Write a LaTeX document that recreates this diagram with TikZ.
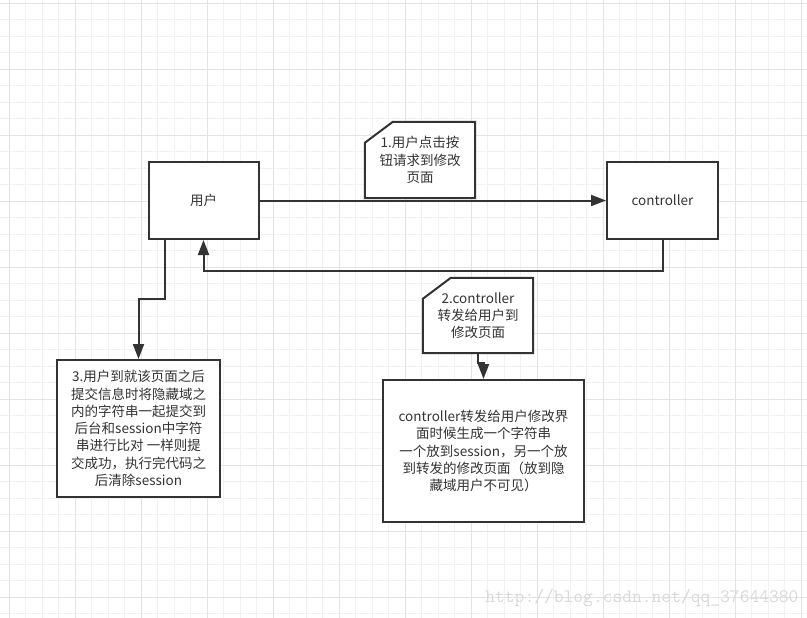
\documentclass[tikz,border=0pt]{standalone}
\usepackage{fontspec}
\setmainfont{Noto Sans CJK SC}
\usetikzlibrary{arrows.meta}

\definecolor{ink}{HTML}{333333}
\definecolor{gridmaj}{HTML}{E3E3E3}
\definecolor{gridmin}{HTML}{F2F2F2}
\definecolor{wmark}{HTML}{D9D9D9}

\pgfdeclarelayer{grid}
\pgfdeclarelayer{cards}
\pgfsetlayers{grid,cards,main}

\begin{document}
\begin{tikzpicture}[x=1pt,y=-1pt,>={Triangle[length=15pt,width=11pt]},
  font=\fontsize{13.5}{17.3}\selectfont,
  b/.style={draw=ink,line width=2pt,fill=white,text=ink,align=center,inner sep=0pt},
  n/.style={text=ink,align=center,inner sep=0pt},
  card/.style={draw=ink,line width=2pt,fill=white},
  c/.style={draw=ink,line width=2pt,->}]
\useasboundingbox (0,0) rectangle (807,618);
% grid
\begin{pgfonlayer}{grid}
\fill[white] (0,0) rectangle (807,618);
\foreach \i in {0,...,48} \draw[gridmin,line width=1pt] ({9.3+16.5*\i},0) -- ++(0,618);
\foreach \j in {0,...,37} \draw[gridmin,line width=1pt] (0,{3.3+16.5*\j}) -- ++(807,0);
\foreach \i in {0,...,12} \draw[gridmaj,line width=1pt] ({9.3+66*\i},0) -- ++(0,618);
\foreach \j in {0,...,9} \draw[gridmaj,line width=1pt] (0,{3.3+66*\j}) -- ++(807,0);
\end{pgfonlayer}

\node[b,minimum width=110pt,minimum height=77pt] (user) at (203.5,200.5) {用户};
\node[b,minimum width=111pt,minimum height=77pt] (ctrl) at (662.5,200.5) {controller};
\node[n,minimum width=110pt,minimum height=76pt] (req) at (420,160) {1.用户点击按\\钮请求到修改\\页面};
\node[n,minimum width=110pt,minimum height=75pt] (fwd) at (478,315.5) {2.controller\\转发给用户到\\修改页面};
\node[b,minimum width=201pt,minimum height=142pt] (token) at (483.5,451)
  {controller转发给用户修改界\\面时候生成一个字符串\\一个放到session，另一个放\\到转发的修改页面（放到隐\\藏域用户不可见）};
\node[b,minimum width=163pt,minimum height=137pt] (check) at (138.5,428.5)
  {3.用户到就该页面之后\\提交信息时将隐藏域之\\内的字符串一起提交到\\后台和session中字符\\串进行比对 一样则提\\交成功，执行完代码之\\后清除session};

% cut-corner notes
\begin{pgfonlayer}{cards}
\foreach \k in {req,fwd}
  \draw[card] ([yshift=-21pt]\k.north west) -- ([xshift=28pt]\k.north west)
    -- (\k.north east) -- (\k.south east) -- (\k.south west) -- cycle;
\end{pgfonlayer}

\draw[c] (user) -- (ctrl);
\draw[c] (ctrl.south) -- ++(0,31) -| (user.south);
\draw[c] ([xshift=-38.5pt]user.south) -- ++(0,59) -| (check.north);
\draw[c] (fwd.south) -- ++(0,10) -| (token.north);

\node[wmark,font=\ttfamily\fontsize{19}{19}\selectfont,anchor=east] (mark) at (802,598) {http://blog.csdn.net/qq\_37644380};
\end{tikzpicture}
\end{document}
